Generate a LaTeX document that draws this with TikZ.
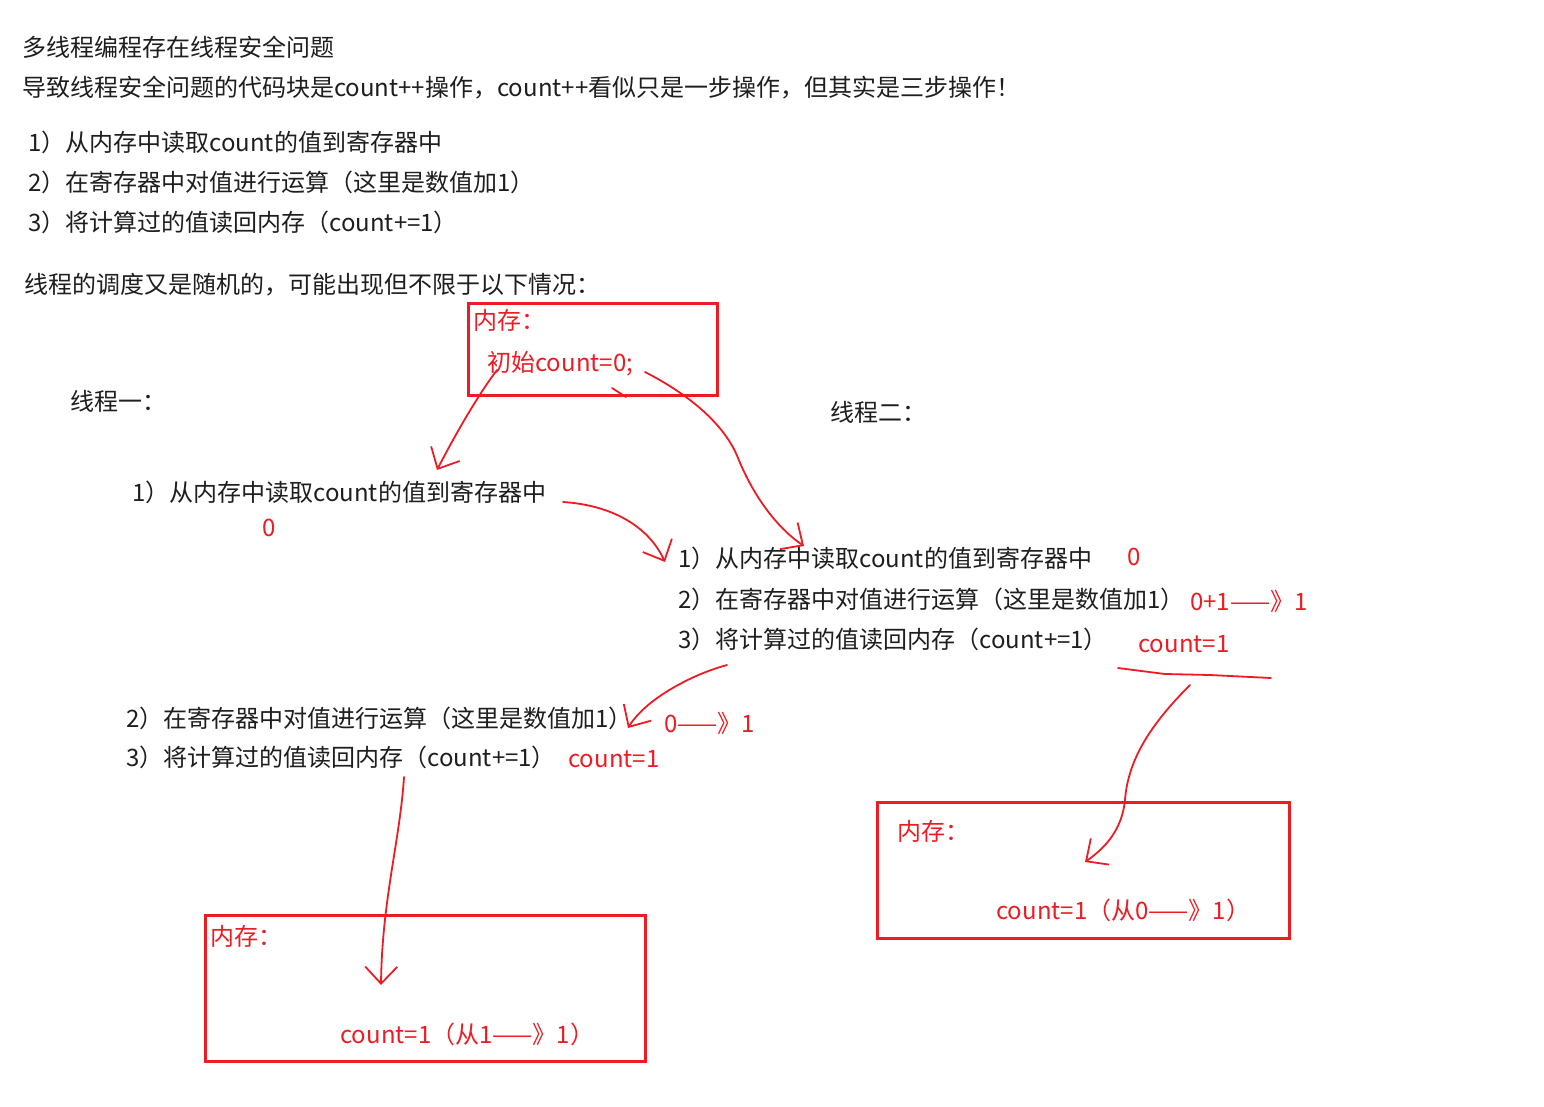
\documentclass[tikz,border=0pt]{standalone}
\usepackage{fontspec}
\usepackage{tikz}
\usetikzlibrary{arrows.meta, calc}
\newfontfamily\cjk{Noto Sans CJK SC}
\definecolor{inkred}{HTML}{ED1C24}
\definecolor{inkblack}{HTML}{1E1E1E}

\tikzset{
  txt/.style={anchor=west, inner sep=0pt, text=inkblack},
  redtxt/.style={txt, text=inkred},
  membox/.style={draw=inkred, line width=3pt, anchor=north west, inner sep=0pt},
  pen/.style={draw=inkred, line width=1.8pt, line cap=round, line join=round},
}

\begin{document}
\begin{tikzpicture}[x=1pt, y=-1pt, >={Straight Barb[length=17pt,width=32pt]}, font=\cjk\fontsize{24}{28}\selectfont]
  \fill[white] (0,0) rectangle (1544,1106);
  \useasboundingbox (0,0) rectangle (1544,1106);

  % Intro text
  \node[txt] (title) at (22,47) {多线程编程存在线程安全问题};
  \node[txt] (intro) at (22,88) {导致线程安全问题的代码块是count++操作，count++看似只是一步操作，但其实是三步操作！};
  \node[txt] (stepA) at (28,142) {1）从内存中读取count的值到寄存器中};
  \node[txt] (stepB) at (28,182) {2）在寄存器中对值进行运算（这里是数值加1）};
  \node[txt] (stepC) at (28,222) {3）将计算过的值读回内存（count+=1）};
  \node[txt] (sched) at (24,285) {线程的调度又是随机的，可能出现但不限于以下情况：};

  % Memory, start
  \node[membox, minimum width=249, minimum height=92] (memA) at (467,302) {};
  \node[redtxt] (memAlbl) at (473,320) {内存：};
  \node[redtxt] (init) at (487,364) {初始count=0;};
  \draw[pen] (612,388) -- (626,397);

  % Thread labels
  \node[txt] (tOne) at (70,401) {线程一：};
  \node[txt] (tTwo) at (830,412) {线程二：};

  % Thread one, read
  \node[txt] (oneRead) at (132,492) {1）从内存中读取count的值到寄存器中};
  \node[redtxt] (oneZero) at (262,528) {0};

  % Thread two, all three steps
  \node[txt] (twoRead) at (678,558) {1）从内存中读取count的值到寄存器中};
  \node[redtxt] (twoZero) at (1127,557) {0};
  \node[txt] (twoCalc) at (678,599) {2）在寄存器中对值进行运算（这里是数值加1）};
  \node[redtxt] (twoCalcVal) at (1190,601) {0+1——》1};
  \node[txt] (twoWrite) at (678,639) {3）将计算过的值读回内存（count+=1）};
  \node[redtxt] (twoWriteVal) at (1138,644) {count=1};
  \draw[pen] (1118,668) -- (1165,674) -- (1210,675) -- (1271,678);

  % Thread one, calc and write
  \node[txt] (oneCalc) at (126,718) {2）在寄存器中对值进行运算（这里是数值加1）};
  \node[redtxt] (oneCalcVal) at (664,723) {0——》1};
  \node[txt] (oneWrite) at (126,757) {3）将计算过的值读回内存（count+=1）};
  \node[redtxt] (oneWriteVal) at (568,759) {count=1};

  % Memory, end
  \node[membox, minimum width=440, minimum height=146] (memB) at (204,914) {};
  \node[redtxt] (memBlbl) at (210,936) {内存：};
  \node[redtxt] (memBval) at (340,1034) {count=1（从1——》1）};
  \node[membox, minimum width=412, minimum height=136] (memC) at (876,801) {};
  \node[redtxt] (memClbl) at (897,831) {内存：};
  \node[redtxt] (memCval) at (996,910) {count=1（从0——》1）};

  % Arrows
  \draw[pen, ->] ($(init.west)+(10,6)$) .. controls (478,395) and (455,435) .. ($(oneRead.west)+(305,-22)$);
  \draw[pen, ->] ($(init.west)+(158,8)$) .. controls (690,395) and (725,425) .. (738,458)
    .. controls (755,500) and (780,530) .. ($(twoRead.west)+(126,-12)$);
  \draw[pen, ->] ($(oneRead.west)+(431,10)$) .. controls (610,505) and (648,525) .. ($(twoRead.west)+(-13,4)$);
  \draw[pen, ->] ($(twoWrite.west)+(49,26)$) .. controls (690,675) and (645,700) .. ($(oneCalc.west)+(502,10)$);
  \draw[pen, ->] ($(oneWrite.west)+(278,20)$) .. controls (400,840) and (382,900) .. ($(memB.north west)+(177,71)$);
  \draw[pen, ->] ($(twoWrite.west)+(512,46)$) .. controls (1150,725) and (1128,760) .. (1125,800)
    .. controls (1122,830) and (1105,848) .. ($(memC.north west)+(209,61)$);
\end{tikzpicture}
\end{document}
